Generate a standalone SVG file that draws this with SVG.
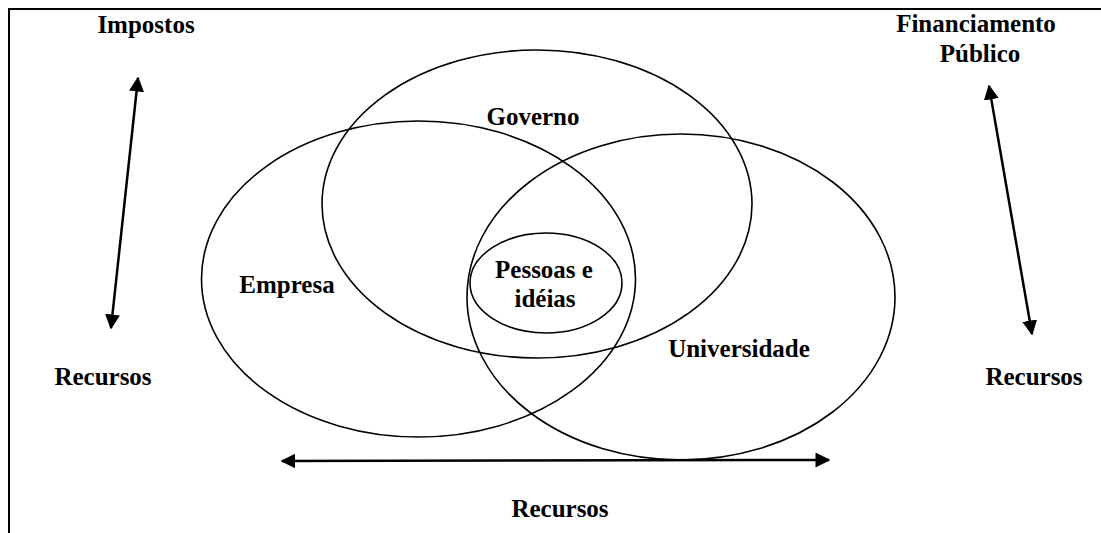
<svg xmlns="http://www.w3.org/2000/svg" width="1101" height="533" viewBox="0 0 1101 533">
<style>
.t{font-family:"Liberation Serif","Times New Roman",serif;font-weight:bold;font-size:25px;fill:#000;text-anchor:middle}
.e{fill:none;stroke:#000;stroke-width:1.6}
.a{fill:none;stroke:#000;stroke-width:2.5;marker-start:url(#ah);marker-end:url(#ah)}
</style>
<defs>
<marker id="ah" viewBox="0 0 10 10" refX="9" refY="5" markerWidth="6" markerHeight="6" orient="auto-start-reverse" markerUnits="strokeWidth">
<path d="M0,0 L10,5 L0,10 Z" fill="#000"/>
</marker>
</defs>
<rect width="1101" height="533" fill="#fff"/>
<path d="M9,533 L9,9 L1101,9" fill="none" stroke="#000" stroke-width="2"/>
<g id="governo"><ellipse class="e" cx="537" cy="204" rx="215" ry="154"/><text class="t" x="533" y="125">Governo</text></g>
<g id="empresa"><ellipse class="e" cx="418.5" cy="279" rx="217" ry="158"/><text class="t" x="287" y="293">Empresa</text></g>
<g id="universidade"><ellipse class="e" cx="681" cy="297" rx="214" ry="163"/><text class="t" x="739" y="357">Universidade</text></g>
<g id="pessoas"><ellipse class="e" cx="546" cy="283" rx="76" ry="50"/><text class="t" x="544" y="278">Pessoas e</text><text class="t" x="545" y="307">idéias</text></g>
<g id="impostos"><text class="t" x="146" y="33">Impostos</text></g>
<g id="financiamento"><text class="t" x="976" y="32">Financiamento</text><text class="t" x="980" y="62">Público</text></g>
<g id="recursos-left"><text class="t" x="103" y="385">Recursos</text></g>
<g id="recursos-right"><text class="t" x="1034" y="385">Recursos</text></g>
<g id="recursos-bottom"><text class="t" x="560" y="517">Recursos</text></g>
<g id="connectors">
<line class="a" x1="138" y1="78" x2="111" y2="328"/>
<line class="a" x1="989" y1="86" x2="1032" y2="334"/>
<line class="a" x1="282" y1="461" x2="829" y2="460"/>
</g>
</svg>
